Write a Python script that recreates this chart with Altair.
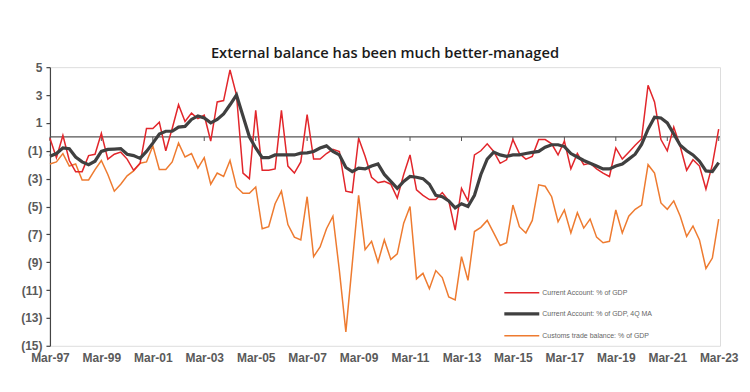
import altair as alt
import pandas as pd

# ---- data (quarterly, Mar-97 .. Mar-23) ----
start_quarter = "1997-03-01"
n_quarters = 105

current_account = [
    -0.1, -1.5, 0.1, -1.7, -2.5, -2.5, -1.35, -1.25, 0.25, -1.6,
    -1.25, -1.1, -1.6, -2.4, -1.9, 0.6, 0.6, 1.05, -1.0, 0.6,
    2.3, 1.1, 1.7, 1.3, 1.55, -0.3, 2.5, 2.6, 4.8, 3.0,
    -2.6, -3.0, 1.9, -2.4, -2.4, -2.3, 1.9, -2.1, -2.6, -1.8,
    1.6, -1.6, -1.6, -1.2, -0.9, -1.05, -3.9, -4.0, -0.1, -1.4,
    -2.9, -3.3, -3.2, -3.4, -4.4, -2.7, -1.3, -3.8, -4.2, -4.5,
    -4.5, -4.0, -4.6, -6.7, -3.7, -4.6, -1.3, -1.0, -0.5, -1.05,
    -1.9, -1.65, -0.2, -1.2, -1.6, -1.4, -0.2, -0.2, -0.5, -1.3,
    -0.3, -2.3, -1.2, -2.0, -1.9, -2.3, -2.6, -2.85, -0.8, -1.6,
    -1.1, -0.6, -0.15, 3.7, 2.5, -0.2, -1.0, 0.7, -0.7, -2.4,
    -1.65, -2.1, -3.75, -2.0, 0.55,
]

current_account_ma = [
    -1.4, -1.2, -0.8, -0.85, -1.45, -1.8, -2.0, -1.75, -1.05, -0.9,
    -0.88, -0.85, -1.25, -1.35, -1.55, -1.05, -0.45, 0.2, 0.4, 0.4,
    0.7, 0.75, 1.25, 1.5, 1.35, 1.0, 1.25, 1.65, 2.3, 3.0,
    1.5, 0.0, -0.8, -1.5, -1.5, -1.3, -1.3, -1.3, -1.3, -1.17,
    -1.15, -1.05, -0.8, -0.65, -1.05, -1.3, -2.2, -2.5, -2.25, -2.3,
    -2.1, -1.95, -2.7, -3.2, -3.7, -3.2, -2.85, -2.9, -3.0, -3.4,
    -4.2, -4.3, -4.6, -5.1, -4.8, -5.0, -4.2, -2.7, -1.6, -1.1,
    -1.3, -1.4, -1.3, -1.3, -1.2, -1.12, -1.05, -0.75, -0.57, -0.57,
    -0.7, -1.2, -1.45, -1.7, -1.9, -2.1, -2.3, -2.3, -2.1, -1.95,
    -1.6, -1.25, -0.55, 0.55, 1.4, 1.35, 1.0, 0.2, -0.6, -1.0,
    -1.3, -1.75, -2.45, -2.5, -1.85,
]

customs_trade = [
    -1.95, -1.8, -1.2, -2.1, -1.95, -3.1, -3.1, -2.35, -1.7, -2.7,
    -3.9, -3.4, -2.8, -2.45, -1.9, -1.8, -0.65, -2.35, -2.35, -1.8,
    -0.45, -1.45, -1.2, -2.25, -1.5, -3.4, -2.6, -2.85, -1.7, -3.6,
    -4.05, -4.05, -3.6, -6.6, -6.45, -4.8, -3.9, -6.3, -7.2, -7.4,
    -4.3, -8.6, -7.9, -6.6, -5.7, -9.6, -14.0, -9.1, -4.2, -8.1,
    -7.5, -9.0, -7.4, -8.8, -8.4, -6.2, -5.0, -10.2, -9.8, -10.9,
    -9.6, -10.1, -11.5, -11.7, -8.6, -10.3, -6.8, -6.5, -6.0, -6.9,
    -7.8, -7.6, -4.9, -6.45, -6.9, -6.0, -3.45, -3.55, -4.3, -6.1,
    -5.25, -6.9, -5.45, -6.55, -5.9, -7.2, -7.6, -7.5, -5.25, -6.9,
    -5.7, -5.2, -4.9, -2.0, -2.6, -4.75, -5.2, -4.6, -5.7, -7.15,
    -6.4, -7.4, -9.45, -8.7, -5.9,
]

series_names = [
    "Current Account: % of GDP",
    "Current Account: % of GDP, 4Q MA",
    "Customs trade balance: % of GDP",
]
series_colors = ["#e2262b", "#404040", "#ee7b30"]
series_widths = [1.5, 3.2, 1.5]

y_tick_values = [5, 3, 1, -1, -3, -5, -7, -9, -11, -13, -15]
x_tick_years = list(range(1997, 2024, 2))

title_text = "External balance has been much better-managed"

# ---- build frames ----
dates = pd.date_range(start_quarter, periods=n_quarters, freq="3MS")
df = pd.DataFrame({
    "date": list(dates) * 3,
    "series": [series_names[0]] * n_quarters
    + [series_names[1]] * n_quarters
    + [series_names[2]] * n_quarters,
    "value": current_account + current_account_ma + customs_trade,
})
ticks_df = pd.DataFrame({"date": [pd.Timestamp(year=y, month=3, day=1) for y in x_tick_years]})

W, H = 671, 279
label_font = "Liberation Sans, Arial, sans-serif"

x_scale = alt.Scale(domain=[alt.DateTime(year=1997, month=3, date=1),
                            alt.DateTime(year=2023, month=3, date=20)])
y_scale = alt.Scale(domain=[-15, 5], nice=False, zero=False)

x_axis = alt.Axis(
    values=[alt.DateTime(year=y, month=3, date=1) for y in x_tick_years],
    format="%b-%y", title=None, domain=False, ticks=False, grid=False,
    labelFont=label_font, labelFontSize=12, labelFontWeight="bold",
    labelColor="#5a5a5a", labelPadding=7, labelOverlap=False, labelFlush=False,
)
y_axis = alt.Axis(
    values=y_tick_values, title=None, grid=False, labelOverlap=False,
    labelExpr="datum.value < 0 ? '(' + abs(datum.value) + ')' : '' + datum.value",
    labelFont=label_font, labelFontSize=12, labelFontWeight="bold",
    labelColor="#5a5a5a", labelPadding=4,
    domainColor="#444444", domainWidth=1.2, tickColor="#444444", tickSize=4, tickWidth=1.2,
)

layers = []
# zero line and its tick marks
layers.append(
    alt.Chart(pd.DataFrame({"v": [0]})).mark_rule(color="#555555", strokeWidth=1.2).encode(
        y=alt.Y("v:Q", scale=y_scale, axis=y_axis)
    )
)
layers.append(
    alt.Chart(ticks_df).mark_rule(color="#555555", strokeWidth=1).encode(
        x=alt.X("date:T", scale=x_scale, axis=x_axis),
        y=alt.Y(datum=0, scale=y_scale, axis=y_axis),
        y2=alt.Y2(datum=-0.3),
    )
)
# series lines (orange, red, black)
for idx in [2, 0, 1]:
    layers.append(
        alt.Chart(df[df["series"] == series_names[idx]]).mark_line(
            color=series_colors[idx], strokeWidth=series_widths[idx]
        ).encode(
            x=alt.X("date:T", scale=x_scale, axis=x_axis),
            y=alt.Y("value:Q", scale=y_scale, axis=y_axis),
        )
    )

# manual legend
legend_y = [226, 247, 269]
for idx in range(3):
    one = pd.DataFrame({"label": [series_names[idx]]})
    layers.append(
        alt.Chart(one).mark_rule(color=series_colors[idx], strokeWidth=series_widths[idx]).encode(
            x=alt.value(455), x2=alt.value(490), y=alt.value(legend_y[idx])
        )
    )
    layers.append(
        alt.Chart(one).mark_text(align="left", baseline="middle", fontSize=7,
                                 font="Liberation Sans, Arial, sans-serif",
                                 color="#666666").encode(
            x=alt.value(493), y=alt.value(legend_y[idx]), text=alt.Text("label:N")
        )
    )

chart = alt.layer(*layers).properties(
    width=W, height=H,
    title=alt.TitleParams(title_text, fontSize=14.7, font="Open Sans", fontWeight=600,
                          color="#1a1a1a", anchor="middle", offset=0),
    padding={"left": 42, "top": 59, "right": 22, "bottom": 30},
    autosize=alt.AutoSizeParams(type="none"),
).configure_view(stroke=None).configure_axisY(labelOverlap=False).configure(background="white")

chart.save("out.html", embed_options={"renderer": "svg", "actions": False})
